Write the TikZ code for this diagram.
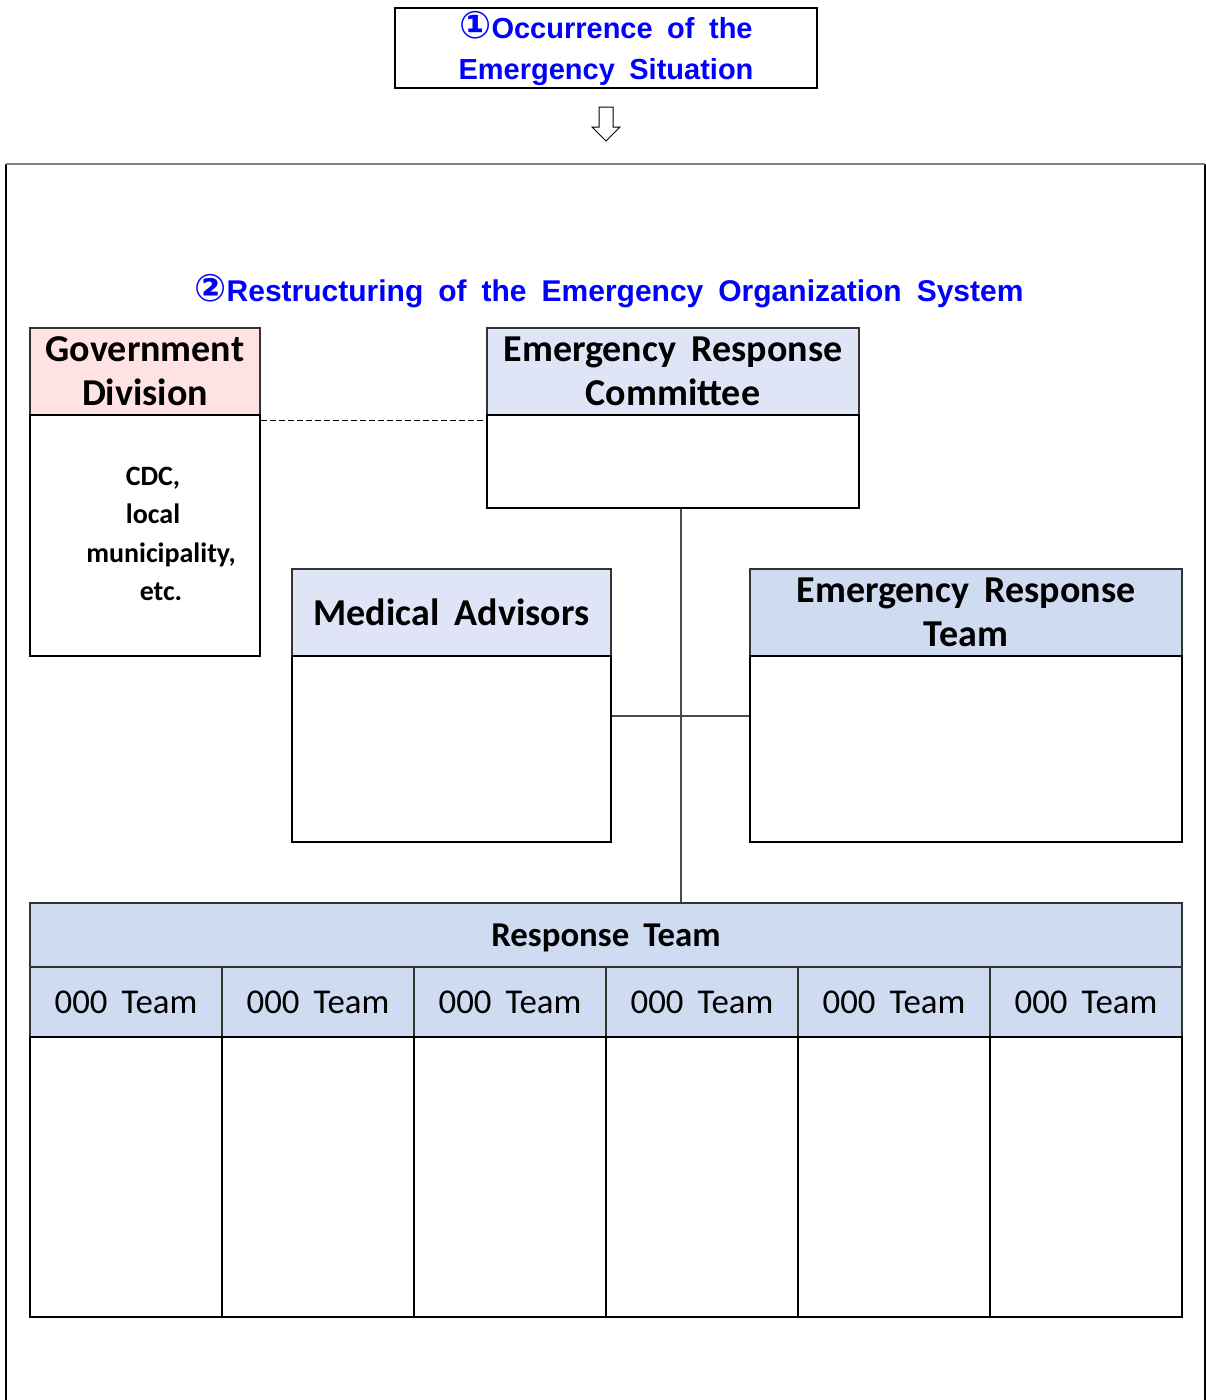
\documentclass[tikz,border=0pt]{standalone}
\usepackage{fontspec}
\setmainfont{Carlito}[WordSpace=1.8]
\newfontfamily\bluefont{Liberation Sans}[WordSpace=1.8]
\newfontfamily\circfont{DejaVu Sans}
\usetikzlibrary{calc}

\definecolor{pinkhead}{HTML}{FFE3E3}
\definecolor{lavhead}{HTML}{DFE5F6}
\definecolor{bluehead}{HTML}{CFDBF0}
\definecolor{titleblue}{HTML}{0000FF}

\newcommand{\headfont}{\fontsize{38}{44}\selectfont\bfseries}
\newcommand{\notefont}{\fontsize{28}{38.5}\selectfont\bfseries}
\newcommand{\teamfont}{\fontsize{34.8}{40}\selectfont}
\newcommand{\circnum}[1]{{\circfont\bfseries\fontsize{38}{40}\selectfont #1}}

\begin{document}
\begin{tikzpicture}[x=1pt,y=-1pt,
    box/.style={draw=black,line width=1.2pt,inner sep=0pt,align=center},
    head/.style={box,draw=black!80,font=\headfont}]
\useasboundingbox (0,0) rectangle (1206,1400);

% step 1
\node[box,minimum width=422pt,minimum height=80pt] (occ) at (606,48) {};
\node[text=titleblue,align=center,font=\bluefont\fontsize{29}{41}\selectfont\bfseries]
      (occtext) at ([yshift=0pt]occ.center) {\circnum{①}Occurrence of the\\Emergency Situation};
\draw[line width=1pt] (599,107) -- (613,107) -- (613,127) -- (620,127) -- (606,141)
      -- (592,127) -- (599,127) -- cycle;

% outer frame
\draw[line width=1.5pt] (6,1400) -- (6,164);
\draw[line width=1.5pt] (1205,164) -- (1205,1400);
\draw[line width=2pt,black!50] (6,164) -- (1205,164);

% step 2
\node[text=titleblue,font=\bluefont\fontsize{30}{34}\selectfont\bfseries] (title) at (609,291)
      {\circnum{②}Restructuring of the Emergency Organization System};

\node[head,fill=pinkhead,minimum width=230pt,minimum height=87pt] (govhead) at (145,371.5) {Government\\Division};
\node[box,minimum width=230pt,minimum height=241pt] (govbody) at (145,535.5) {};
\node[font=\notefont,align=center] (govnote) at (153,534)
      {CDC,\hspace{16pt}\\local\hspace{16pt}\\\hspace{16pt}municipality,\\\hspace{16pt}etc.};

\node[head,fill=lavhead,minimum width=372pt,minimum height=87pt] (erchead) at (673,371.5) {Emergency Response\\Committee};
\node[box,minimum width=372pt,minimum height=93pt] (ercbody) at (673,461.5) {};

\node[head,fill=lavhead,minimum width=319pt,minimum height=87pt] (medhead) at (451.5,612.5) {Medical Advisors};
\node[box,minimum width=319pt,minimum height=186pt] (medbody) at (451.5,749) {};

\node[head,fill=bluehead,minimum width=432pt,minimum height=87pt] (erthead) at (966,612.5) {Emergency Response\\Team};
\node[box,minimum width=432pt,minimum height=186pt] (ertbody) at (966,749) {};

\node[head,fill=bluehead,minimum width=1152pt,minimum height=64pt] (rthead) at (606,935) {};
\node[font=\fontsize{34.8}{40}\selectfont\bfseries] (rttext) at ([yshift=-3pt]rthead.center) {Response Team};
\foreach \i in {0,...,5} {
    \node[box,draw=black!80,fill=bluehead,minimum width=192pt,minimum height=70pt,font=\teamfont] (team\i) at (126+192*\i,1002) {000 Team};
    \node[box,minimum width=192pt,minimum height=280pt] (teambody\i) at (126+192*\i,1177) {};
}

% links
\draw[dash pattern=on 6pt off 3pt,line width=1pt] ([yshift=-6pt]govbody.north east) -- ([yshift=-6pt]ercbody.north west);
\draw[line width=1.2pt,black!70] ([xshift=8pt]ercbody.south) -- ([xshift=8pt]ercbody.south |- rthead.north);
\draw[line width=1.2pt,black!70] ([yshift=33pt]medbody.east) -- ([yshift=33pt]ertbody.west);
\end{tikzpicture}
\end{document}
